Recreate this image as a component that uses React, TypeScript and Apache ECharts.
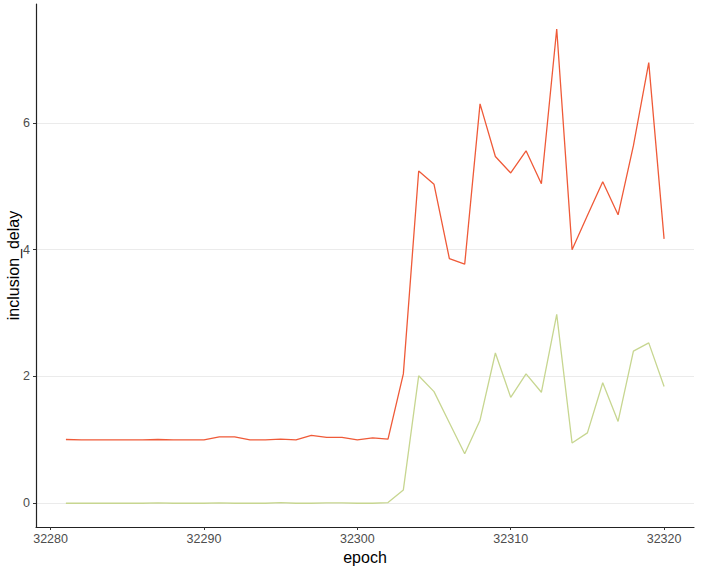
import React, { useEffect, useRef } from "react";
import * as echarts from "echarts";

const epochs: number[] = [
  32281, 32282, 32283, 32284, 32285, 32286, 32287, 32288, 32289, 32290,
  32291, 32292, 32293, 32294, 32295, 32296, 32297, 32298, 32299, 32300,
  32301, 32302, 32303, 32304, 32305, 32306, 32307, 32308, 32309, 32310,
  32311, 32312, 32313, 32314, 32315, 32316, 32317, 32318, 32319, 32320,
];

const redDelay: number[] = [
  1.005, 1.0, 1.0, 1.0, 1.0, 1.0, 1.005, 1.0, 1.0, 1.0,
  1.047, 1.047, 1.0, 1.0, 1.01, 1.0, 1.07, 1.04, 1.04, 1.0,
  1.03, 1.01, 2.04, 5.24, 5.03, 3.86, 3.77, 6.3, 5.47, 5.21,
  5.56, 5.04, 7.48, 4.0, 4.54, 5.07, 4.55, 5.64, 6.95, 4.17,
];

const greenDelay: number[] = [
  0.0, 0.0, 0.0, 0.0, 0.0, 0.0, 0.005, 0.0, 0.0, 0.0,
  0.005, 0.0, 0.0, 0.0, 0.01, 0.0, 0.0, 0.005, 0.005, 0.0,
  0.0, 0.01, 0.21, 2.01, 1.76, 1.27, 0.78, 1.31, 2.37, 1.67,
  2.04, 1.75, 2.98, 0.95, 1.11, 1.9, 1.29, 2.4, 2.53, 1.84,
];

const xTicks: number[] = [32280, 32290, 32300, 32310, 32320];
const yTicks: number[] = [0, 2, 4, 6];

export default function App() {
  const ref = useRef<HTMLDivElement>(null);
  useEffect(() => {
    if (!ref.current) return;
    const chart = echarts.init(ref.current, undefined, { renderer: "svg" });
    const fontFamily = "Liberation Sans, Arial, sans-serif";
    chart.setOption({
      animation: false,
      backgroundColor: "#ffffff",
      grid: { left: 36, right: 8, top: 4, bottom: 40, containLabel: false, outerBoundsMode: "none" },
      xAxis: {
        type: "value",
        min: 32279.05,
        max: 32321.95,
        name: "epoch",
        nameLocation: "middle",
        nameGap: 20,
        nameTextStyle: { color: "#000", fontSize: 16, fontFamily },
        axisLine: { show: true, onZero: false, lineStyle: { color: "#222", width: 1.2 } },
        axisTick: {
          show: true,
          length: 3,
          customValues: xTicks,
          lineStyle: { color: "#333" },
        },
        axisLabel: {
          customValues: xTicks,
          formatter: (v: number) => String(v),
          color: "#4d4d4d",
          fontSize: 12.5,
          fontFamily,
          margin: 5,
        },
        splitLine: { show: false },
      },
      yAxis: {
        type: "value",
        min: -0.375,
        max: 7.875,
        name: "inclusion_delay",
        nameLocation: "middle",
        nameGap: 15,
        nameMoveOverlap: false,
        nameTextStyle: { color: "#000", fontSize: 16, fontFamily },
        axisLine: { show: true, onZero: false, lineStyle: { color: "#222", width: 1.2 } },
        axisTick: {
          show: true,
          length: 3,
          customValues: yTicks,
          lineStyle: { color: "#333" },
        },
        axisLabel: {
          customValues: yTicks,
          formatter: (v: number) => String(v),
          color: "#4d4d4d",
          fontSize: 12.5,
          fontFamily,
          margin: 6,
        },
        splitLine: { show: true, lineStyle: { color: "#ebebeb", width: 1 } },
      },
      series: [
        {
          type: "line",
          name: "red",
          data: epochs.map((e, i) => [e, redDelay[i]]),
          showSymbol: false,
          symbol: "none",
          lineStyle: { color: "#ef5a38", width: 1.3 },
        },
        {
          type: "line",
          name: "green",
          data: epochs.map((e, i) => [e, greenDelay[i]]),
          showSymbol: false,
          symbol: "none",
          lineStyle: { color: "#c7d690", width: 1.3 },
        },
      ],
    });
    return () => chart.dispose();
  }, []);
  return <div ref={ref} style={{ width: 702, height: 567, position: "absolute", left: 0, top: 0 }} />;
}
